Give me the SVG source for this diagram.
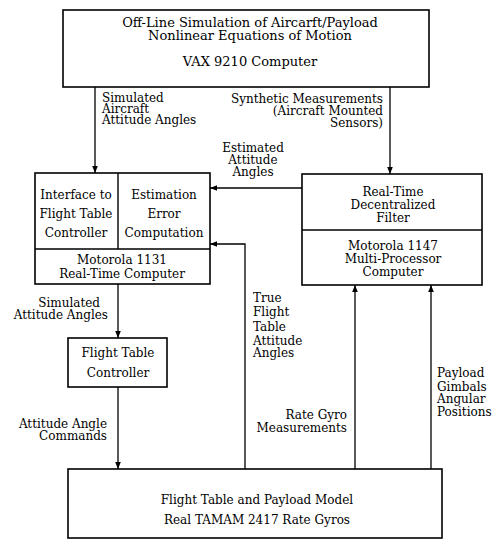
<svg xmlns="http://www.w3.org/2000/svg" width="493" height="540" viewBox="0 0 493 540">
<defs>
<marker id="ah" viewBox="0 0 10 10" refX="10" refY="5" markerWidth="7" markerHeight="7" markerUnits="userSpaceOnUse" orient="auto"><path d="M0,1 L10,5 L0,9 z" fill="#000"/></marker>
<style>
.box{fill:#fff;stroke:#000;stroke-width:1.6}
.div{stroke:#000;stroke-width:1.4;fill:none}
.cn{stroke:#000;stroke-width:1.3;fill:none;marker-end:url(#ah)}
text{font-family:"DejaVu Serif","Liberation Serif",serif;font-size:12px;fill:#000}
.c{text-anchor:middle}
.r{text-anchor:end}
.big{font-size:13px}
</style>
</defs>
<rect width="493" height="540" fill="#fff"/>
<g id="connectors">
<path class="cn" d="M95 87 V173"/>
<path class="cn" d="M390 87 V174"/>
<path class="cn" d="M302 188 H210"/>
<path class="cn" d="M245 469 V244 H210"/>
<path class="cn" d="M118 284 V338"/>
<path class="cn" d="M118 387 V469"/>
<path class="cn" d="M355 469 V285"/>
<path class="cn" d="M431 469 V285"/>
</g>
<g id="vax">
<rect class="box" x="63" y="10" width="366" height="77"/>
<text class="c big" x="250" y="27">Off-Line Simulation of Aircarft/Payload</text>
<text class="c big" x="250" y="40">Nonlinear Equations of Motion</text>
<text class="c big" x="250" y="66">VAX 9210 Computer</text>
</g>
<g id="motorola1131">
<rect class="box" x="35" y="173" width="175" height="111"/>
<path class="div" d="M118 173 V249 M35 249 H210"/>
<text class="c" x="76" y="199">Interface to</text>
<text class="c" x="76" y="218">Flight Table</text>
<text class="c" x="76" y="237">Controller</text>
<text class="c" x="164" y="199">Estimation</text>
<text class="c" x="164" y="218">Error</text>
<text class="c" x="164" y="237">Computation</text>
<text class="c" x="122" y="264">Motorola 1131</text>
<text class="c" x="122" y="278">Real-Time Computer</text>
</g>
<g id="motorola1147">
<rect class="box" x="302" y="174" width="180" height="111"/>
<path class="div" d="M302 230 H482"/>
<text class="c" x="393" y="196">Real-Time</text>
<text class="c" x="393" y="209">Decentralized</text>
<text class="c" x="393" y="222">Filter</text>
<text class="c" x="393" y="250">Motorola 1147</text>
<text class="c" x="393" y="263">Multi-Processor</text>
<text class="c" x="393" y="276">Computer</text>
</g>
<g id="ftc">
<rect class="box" x="68" y="338" width="99" height="49"/>
<text class="c" x="118" y="357">Flight Table</text>
<text class="c" x="118" y="377">Controller</text>
</g>
<g id="model">
<rect class="box" x="68" y="469" width="374" height="69"/>
<text class="c" x="257" y="504">Flight Table and Payload Model</text>
<text class="c" x="257" y="524">Real TAMAM 2417 Rate Gyros</text>
</g>
<g id="labels">
<text x="102" y="102">Simulated</text>
<text x="102" y="113">Aircraft</text>
<text x="102" y="124">Attitude Angles</text>
<text class="r" x="383" y="103">Synthetic Measurements</text>
<text class="r" x="383" y="115">(Aircraft Mounted</text>
<text class="r" x="383" y="127">Sensors)</text>
<text class="c" x="253" y="152">Estimated</text>
<text class="c" x="253" y="164">Attitude</text>
<text class="c" x="253" y="176">Angles</text>
<text class="r" x="100" y="307">Simulated</text>
<text class="r" x="108" y="319">Attitude Angles</text>
<text class="r" x="107" y="428">Attitude Angle</text>
<text class="r" x="107" y="440">Commands</text>
<text x="253" y="302">True</text>
<text x="253" y="316">Flight</text>
<text x="253" y="331">Table</text>
<text x="253" y="345">Attitude</text>
<text x="253" y="357">Angles</text>
<text class="r" x="347" y="419">Rate Gyro</text>
<text class="r" x="347" y="432">Measurements</text>
<text x="437" y="377">Payload</text>
<text x="437" y="391">Gimbals</text>
<text x="437" y="403">Angular</text>
<text x="437" y="416">Positions</text>
</g>
</svg>
